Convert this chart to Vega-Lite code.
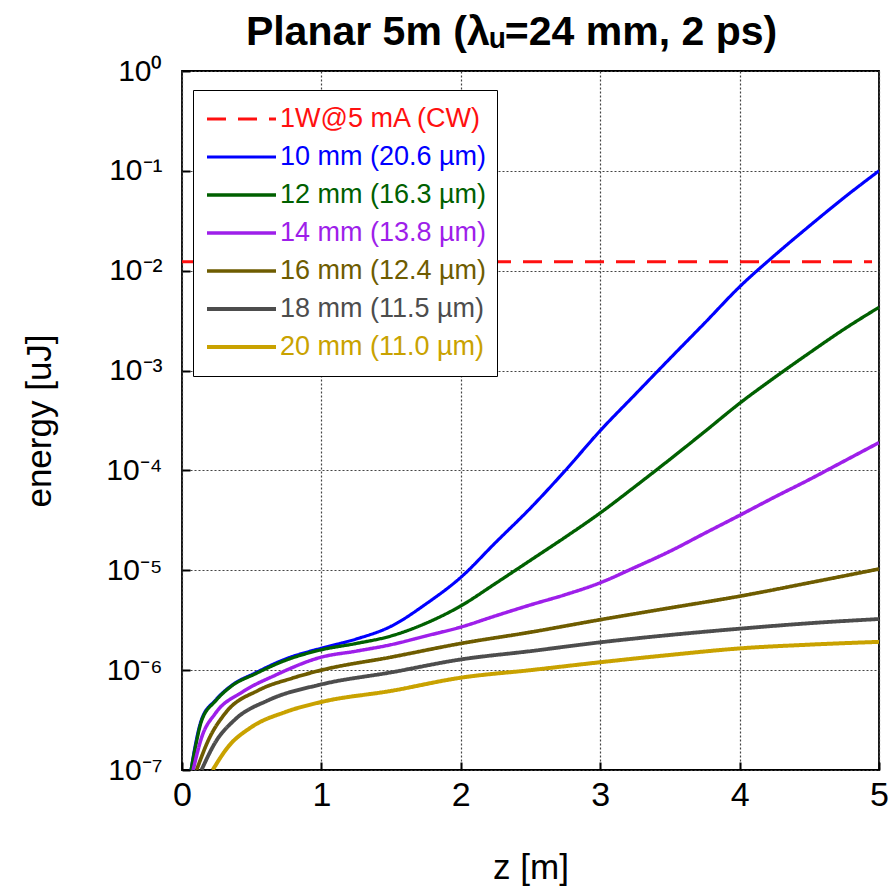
{
  "$schema": "https://vega.github.io/schema/vega-lite/v6.json",
  "autosize": {"type": "none"},
  "width": 697,
  "height": 699,
  "padding": {"left": 182, "top": 71, "right": 10, "bottom": 121},
  "background": "white",
  "title": {
    "text": "Planar 5m (λᵤ=24 mm, 2 ps)",
    "font": "Liberation Sans",
    "fontWeight": "bold",
    "fontSize": 41,
    "color": "black",
    "anchor": "middle",
    "dx": -19,
    "offset": 2
  },
  "config": {
    "view": {"stroke": "black", "strokeWidth": 1.8},
    "axis": {
      "labelFont": "Liberation Sans",
      "titleFont": "Liberation Sans",
      "labelColor": "black",
      "titleColor": "black",
      "titleFontSize": 35,
      "titleFontWeight": "normal",
      "domain": false,
      "grid": true,
      "gridColor": "#444444",
      "gridDash": [2, 2],
      "gridWidth": 1.2,
      "ticks": true,
      "tickColor": "black",
      "tickWidth": 2,
      "tickSize": -8
    }
  },
  "datasets": {
    "curves": [
      {"s": "1W@5 mA (CW)", "z": 0, "e": 0.0123},
      {"s": "1W@5 mA (CW)", "z": 4.95, "e": 0.0123},

      {"s": "10 mm (20.6 µm)", "z": 0.065, "e": 1e-7},
      {"s": "10 mm (20.6 µm)", "z": 0.093, "e": 1.7e-7},
      {"s": "10 mm (20.6 µm)", "z": 0.14, "e": 3.2e-7},
      {"s": "10 mm (20.6 µm)", "z": 0.24, "e": 5e-7},
      {"s": "10 mm (20.6 µm)", "z": 0.36, "e": 7.1e-7},
      {"s": "10 mm (20.6 µm)", "z": 0.52, "e": 9.3e-7},
      {"s": "10 mm (20.6 µm)", "z": 0.74, "e": 1.29e-6},
      {"s": "10 mm (20.6 µm)", "z": 1.0, "e": 1.66e-6},
      {"s": "10 mm (20.6 µm)", "z": 1.25, "e": 2.05e-6},
      {"s": "10 mm (20.6 µm)", "z": 1.5, "e": 2.75e-6},
      {"s": "10 mm (20.6 µm)", "z": 1.75, "e": 4.6e-6},
      {"s": "10 mm (20.6 µm)", "z": 2.0, "e": 8.5e-6},
      {"s": "10 mm (20.6 µm)", "z": 2.25, "e": 1.9e-5},
      {"s": "10 mm (20.6 µm)", "z": 2.5, "e": 4.2e-5},
      {"s": "10 mm (20.6 µm)", "z": 2.75, "e": 1e-4},
      {"s": "10 mm (20.6 µm)", "z": 3.0, "e": 2.5e-4},
      {"s": "10 mm (20.6 µm)", "z": 3.25, "e": 5.75e-4},
      {"s": "10 mm (20.6 µm)", "z": 3.5, "e": 1.32e-3},
      {"s": "10 mm (20.6 µm)", "z": 3.75, "e": 3.0e-3},
      {"s": "10 mm (20.6 µm)", "z": 4.0, "e": 6.9e-3},
      {"s": "10 mm (20.6 µm)", "z": 4.25, "e": 1.42e-2},
      {"s": "10 mm (20.6 µm)", "z": 4.5, "e": 2.8e-2},
      {"s": "10 mm (20.6 µm)", "z": 4.75, "e": 5.4e-2},
      {"s": "10 mm (20.6 µm)", "z": 5.0, "e": 0.1},

      {"s": "12 mm (16.3 µm)", "z": 0.065, "e": 1e-7},
      {"s": "12 mm (16.3 µm)", "z": 0.1, "e": 1.8e-7},
      {"s": "12 mm (16.3 µm)", "z": 0.14, "e": 3.1e-7},
      {"s": "12 mm (16.3 µm)", "z": 0.24, "e": 4.9e-7},
      {"s": "12 mm (16.3 µm)", "z": 0.36, "e": 7e-7},
      {"s": "12 mm (16.3 µm)", "z": 0.52, "e": 9.1e-7},
      {"s": "12 mm (16.3 µm)", "z": 0.74, "e": 1.25e-6},
      {"s": "12 mm (16.3 µm)", "z": 1.0, "e": 1.6e-6},
      {"s": "12 mm (16.3 µm)", "z": 1.25, "e": 1.85e-6},
      {"s": "12 mm (16.3 µm)", "z": 1.5, "e": 2.2e-6},
      {"s": "12 mm (16.3 µm)", "z": 1.75, "e": 2.95e-6},
      {"s": "12 mm (16.3 µm)", "z": 2.0, "e": 4.4e-6},
      {"s": "12 mm (16.3 µm)", "z": 2.25, "e": 7.4e-6},
      {"s": "12 mm (16.3 µm)", "z": 2.5, "e": 1.26e-5},
      {"s": "12 mm (16.3 µm)", "z": 2.75, "e": 2.15e-5},
      {"s": "12 mm (16.3 µm)", "z": 3.0, "e": 3.75e-5},
      {"s": "12 mm (16.3 µm)", "z": 3.25, "e": 6.9e-5},
      {"s": "12 mm (16.3 µm)", "z": 3.5, "e": 1.29e-4},
      {"s": "12 mm (16.3 µm)", "z": 3.75, "e": 2.45e-4},
      {"s": "12 mm (16.3 µm)", "z": 4.0, "e": 4.7e-4},
      {"s": "12 mm (16.3 µm)", "z": 4.25, "e": 8.5e-4},
      {"s": "12 mm (16.3 µm)", "z": 4.5, "e": 1.5e-3},
      {"s": "12 mm (16.3 µm)", "z": 4.75, "e": 2.6e-3},
      {"s": "12 mm (16.3 µm)", "z": 5.0, "e": 4.3e-3},

      {"s": "14 mm (13.8 µm)", "z": 0.08, "e": 1e-7},
      {"s": "14 mm (13.8 µm)", "z": 0.14, "e": 2.1e-7},
      {"s": "14 mm (13.8 µm)", "z": 0.24, "e": 3.7e-7},
      {"s": "14 mm (13.8 µm)", "z": 0.43, "e": 6e-7},
      {"s": "14 mm (13.8 µm)", "z": 0.67, "e": 8.9e-7},
      {"s": "14 mm (13.8 µm)", "z": 1.0, "e": 1.35e-6},
      {"s": "14 mm (13.8 µm)", "z": 1.25, "e": 1.55e-6},
      {"s": "14 mm (13.8 µm)", "z": 1.5, "e": 1.8e-6},
      {"s": "14 mm (13.8 µm)", "z": 1.75, "e": 2.2e-6},
      {"s": "14 mm (13.8 µm)", "z": 2.0, "e": 2.7e-6},
      {"s": "14 mm (13.8 µm)", "z": 2.25, "e": 3.5e-6},
      {"s": "14 mm (13.8 µm)", "z": 2.5, "e": 4.5e-6},
      {"s": "14 mm (13.8 µm)", "z": 2.75, "e": 5.7e-6},
      {"s": "14 mm (13.8 µm)", "z": 3.0, "e": 7.5e-6},
      {"s": "14 mm (13.8 µm)", "z": 3.25, "e": 1.07e-5},
      {"s": "14 mm (13.8 µm)", "z": 3.5, "e": 1.55e-5},
      {"s": "14 mm (13.8 µm)", "z": 3.75, "e": 2.35e-5},
      {"s": "14 mm (13.8 µm)", "z": 4.0, "e": 3.55e-5},
      {"s": "14 mm (13.8 µm)", "z": 4.25, "e": 5.4e-5},
      {"s": "14 mm (13.8 µm)", "z": 4.5, "e": 8.1e-5},
      {"s": "14 mm (13.8 µm)", "z": 4.75, "e": 1.24e-4},
      {"s": "14 mm (13.8 µm)", "z": 5.0, "e": 1.9e-4},

      {"s": "16 mm (12.4 µm)", "z": 0.105, "e": 1e-7},
      {"s": "16 mm (12.4 µm)", "z": 0.19, "e": 2e-7},
      {"s": "16 mm (12.4 µm)", "z": 0.31, "e": 3.7e-7},
      {"s": "16 mm (12.4 µm)", "z": 0.55, "e": 6.3e-7},
      {"s": "16 mm (12.4 µm)", "z": 0.79, "e": 8.3e-7},
      {"s": "16 mm (12.4 µm)", "z": 1.0, "e": 1.0e-6},
      {"s": "16 mm (12.4 µm)", "z": 1.5, "e": 1.35e-6},
      {"s": "16 mm (12.4 µm)", "z": 2.0, "e": 1.85e-6},
      {"s": "16 mm (12.4 µm)", "z": 2.5, "e": 2.4e-6},
      {"s": "16 mm (12.4 µm)", "z": 3.0, "e": 3.2e-6},
      {"s": "16 mm (12.4 µm)", "z": 3.5, "e": 4.2e-6},
      {"s": "16 mm (12.4 µm)", "z": 4.0, "e": 5.5e-6},
      {"s": "16 mm (12.4 µm)", "z": 4.5, "e": 7.5e-6},
      {"s": "16 mm (12.4 µm)", "z": 5.0, "e": 1.03e-5},

      {"s": "18 mm (11.5 µm)", "z": 0.14, "e": 1e-7},
      {"s": "18 mm (11.5 µm)", "z": 0.24, "e": 1.9e-7},
      {"s": "18 mm (11.5 µm)", "z": 0.38, "e": 3.2e-7},
      {"s": "18 mm (11.5 µm)", "z": 0.62, "e": 5e-7},
      {"s": "18 mm (11.5 µm)", "z": 1.0, "e": 7.2e-7},
      {"s": "18 mm (11.5 µm)", "z": 1.5, "e": 9.5e-7},
      {"s": "18 mm (11.5 µm)", "z": 2.0, "e": 1.28e-6},
      {"s": "18 mm (11.5 µm)", "z": 2.5, "e": 1.55e-6},
      {"s": "18 mm (11.5 µm)", "z": 3.0, "e": 1.9e-6},
      {"s": "18 mm (11.5 µm)", "z": 3.5, "e": 2.25e-6},
      {"s": "18 mm (11.5 µm)", "z": 4.0, "e": 2.6e-6},
      {"s": "18 mm (11.5 µm)", "z": 4.5, "e": 2.95e-6},
      {"s": "18 mm (11.5 µm)", "z": 5.0, "e": 3.25e-6},

      {"s": "20 mm (11.0 µm)", "z": 0.22, "e": 1e-7},
      {"s": "20 mm (11.0 µm)", "z": 0.33, "e": 1.7e-7},
      {"s": "20 mm (11.0 µm)", "z": 0.5, "e": 2.7e-7},
      {"s": "20 mm (11.0 µm)", "z": 0.74, "e": 3.8e-7},
      {"s": "20 mm (11.0 µm)", "z": 1.0, "e": 4.8e-7},
      {"s": "20 mm (11.0 µm)", "z": 1.5, "e": 6.2e-7},
      {"s": "20 mm (11.0 µm)", "z": 2.0, "e": 8.4e-7},
      {"s": "20 mm (11.0 µm)", "z": 2.5, "e": 1.0e-6},
      {"s": "20 mm (11.0 µm)", "z": 3.0, "e": 1.2e-6},
      {"s": "20 mm (11.0 µm)", "z": 3.5, "e": 1.42e-6},
      {"s": "20 mm (11.0 µm)", "z": 4.0, "e": 1.65e-6},
      {"s": "20 mm (11.0 µm)", "z": 4.5, "e": 1.8e-6},
      {"s": "20 mm (11.0 µm)", "z": 5.0, "e": 1.92e-6}
    ]
  },
  "data": {"name": "curves"},
  "mark": {"type": "line", "interpolate": "monotone", "clip": true},
  "encoding": {
    "x": {
      "field": "z",
      "type": "quantitative",
      "scale": {"domain": [0, 5], "nice": false, "zero": false},
      "axis": {
        "title": "z [m]",
        "values": [0, 1, 2, 3, 4, 5],
        "format": "d",
        "labelFontSize": 34,
        "labelPadding": 16,
        "titlePadding": 38,
        "labelFlush": false
      }
    },
    "y": {
      "field": "e",
      "type": "quantitative",
      "scale": {"type": "log", "domain": [1e-7, 1], "nice": false},
      "axis": {
        "title": "energy [uJ]",
        "values": [1e-7, 1e-6, 1e-5, 1e-4, 1e-3, 1e-2, 1e-1, 1],
        "labelExpr": "['10⁰','10⁻¹','10⁻²','10⁻³','10⁻⁴','10⁻⁵','10⁻⁶','10⁻⁷'][round(-log(datum.value)/LN10)]",
        "labelFontSize": 30,
        "labelPadding": 28,
        "titlePadding": 48,
        "labelFlush": false
      }
    },
    "color": {
      "field": "s",
      "type": "nominal",
      "scale": {
        "domain": ["1W@5 mA (CW)", "10 mm (20.6 µm)", "12 mm (16.3 µm)", "14 mm (13.8 µm)", "16 mm (12.4 µm)", "18 mm (11.5 µm)", "20 mm (11.0 µm)"],
        "range": ["#FF1010", "#0000FF", "#006000", "#9E1FEA", "#6E5C00", "#4D4D4D", "#C9A200"]
      },
      "legend": {
        "title": null,
        "orient": "none",
        "legendX": 11,
        "legendY": 19,
        "fillColor": "white",
        "strokeColor": "black",
        "padding": 10,
        "symbolType": "stroke",
        "symbolSize": 4761,
        "symbolOffset": 2,
        "symbolStrokeWidth": 3,
        "clipHeight": 38,
        "labelFont": "Liberation Sans",
        "labelFontSize": 27,
        "labelOffset": 2,
        "rowPadding": 0,
        "labelLimit": 400,
        "encode": {
          "labels": {"update": {"fill": {"signal": "scale('color', datum.value)"}}}
        }
      }
    },
    "strokeDash": {
      "field": "s",
      "type": "nominal",
      "scale": {
        "domain": ["1W@5 mA (CW)", "10 mm (20.6 µm)", "12 mm (16.3 µm)", "14 mm (13.8 µm)", "16 mm (12.4 µm)", "18 mm (11.5 µm)", "20 mm (11.0 µm)"],
        "range": [[19, 12], [1, 0], [1, 0], [1, 0], [1, 0], [1, 0], [1, 0]]
      }
    },
    "strokeWidth": {
      "field": "s",
      "type": "nominal",
      "scale": {
        "domain": ["1W@5 mA (CW)", "10 mm (20.6 µm)", "12 mm (16.3 µm)", "14 mm (13.8 µm)", "16 mm (12.4 µm)", "18 mm (11.5 µm)", "20 mm (11.0 µm)"],
        "range": [3, 4, 3.2, 3, 3, 3, 3]
      },
      "legend": null
    }
  }
}
